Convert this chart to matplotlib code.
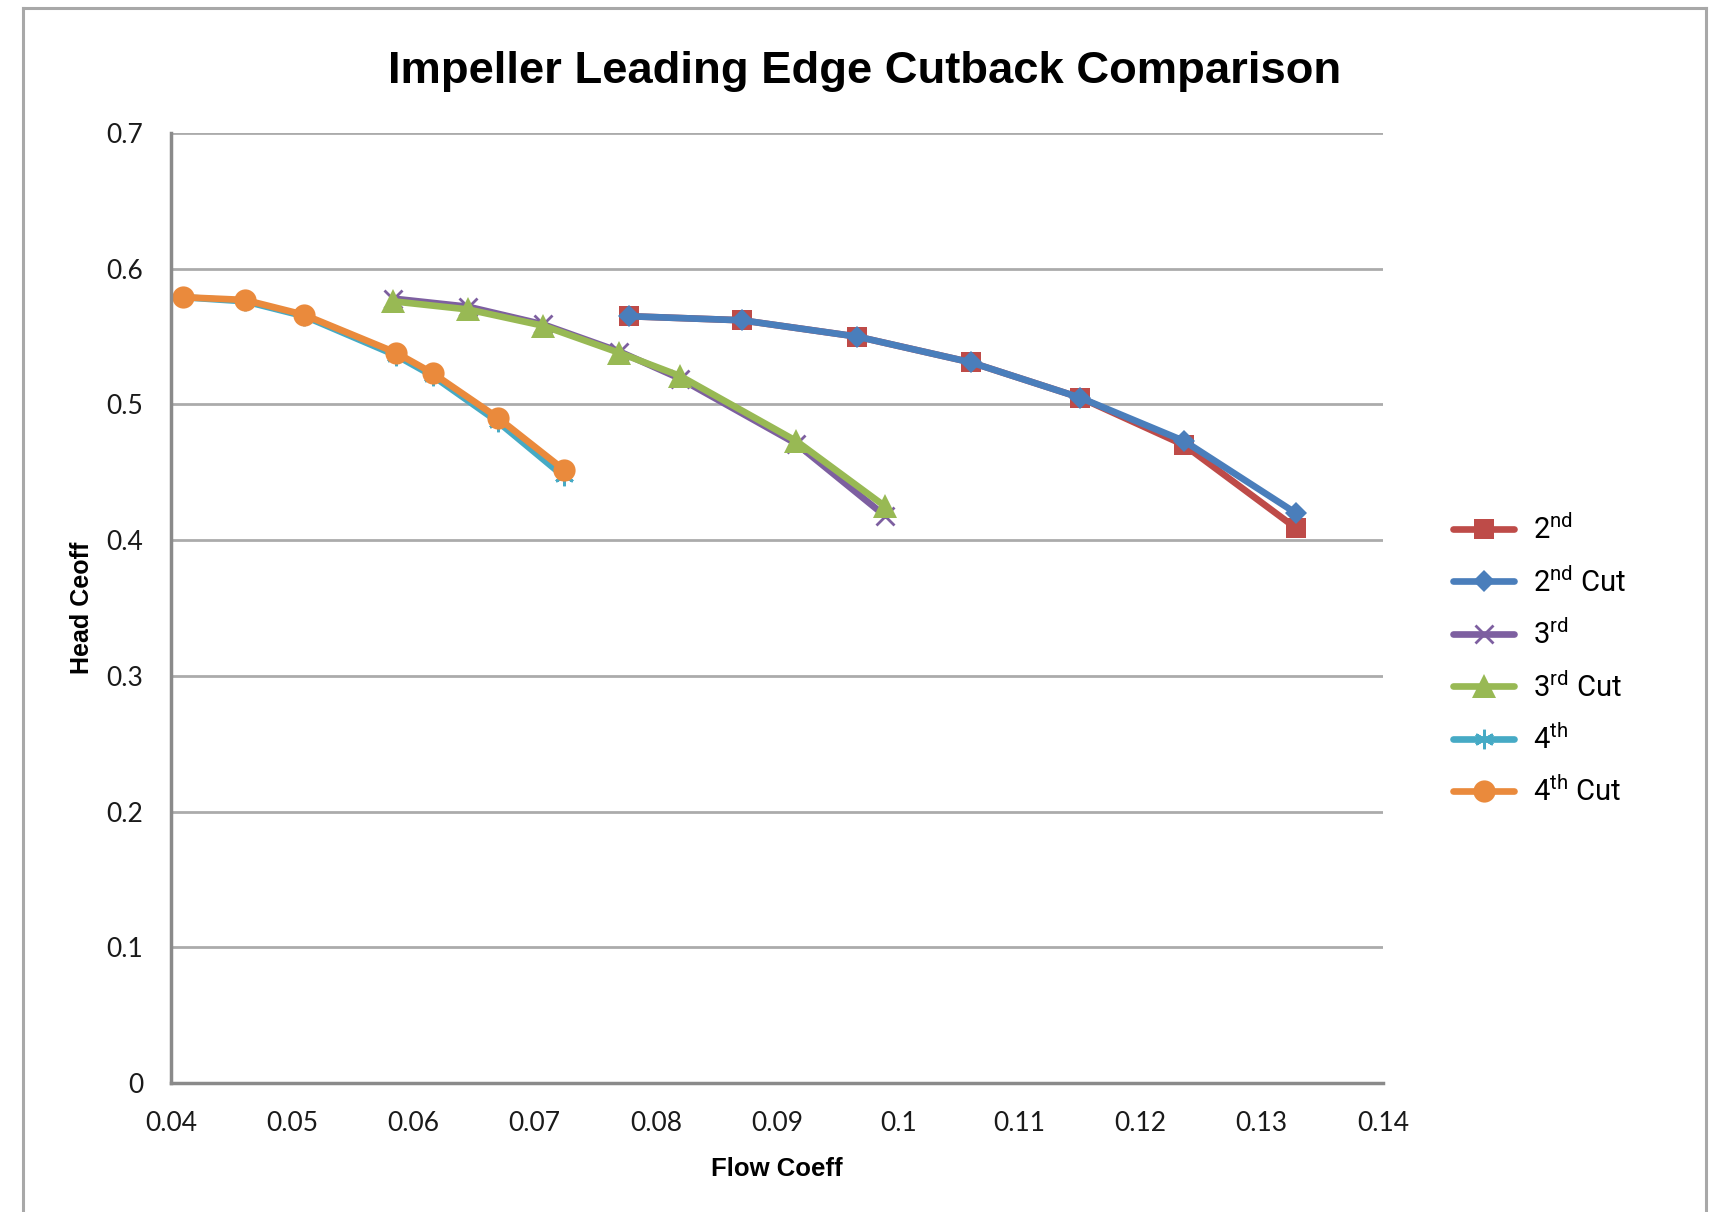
import matplotlib
matplotlib.use("Agg")
import matplotlib.pyplot as plt
from matplotlib.lines import Line2D

# ---- data ----
flow_2 = [0.0778, 0.0871, 0.0966, 0.1060, 0.1150, 0.1236, 0.1328]
head_2 = [0.565, 0.562, 0.550, 0.531, 0.505, 0.470, 0.409]
head_2cut = [0.565, 0.562, 0.550, 0.531, 0.505, 0.473, 0.420]

flow_3 = [0.0583, 0.0645, 0.0707, 0.0770, 0.0820, 0.0916, 0.0989]
head_3 = [0.578, 0.572, 0.559, 0.539, 0.519, 0.471, 0.418]
head_3cut = [0.576, 0.570, 0.558, 0.538, 0.521, 0.473, 0.425]

flow_4 = [0.0410, 0.0461, 0.0510, 0.0586, 0.0616, 0.0670, 0.0724]
head_4 = [0.579, 0.576, 0.565, 0.536, 0.521, 0.487, 0.447]
head_4cut = [0.579, 0.577, 0.566, 0.538, 0.523, 0.490, 0.452]

labels = [r"2$^{\mathrm{nd}}$", r"2$^{\mathrm{nd}}$ Cut", r"3$^{\mathrm{rd}}$",
          r"3$^{\mathrm{rd}}$ Cut", r"4$^{\mathrm{th}}$", r"4$^{\mathrm{th}}$ Cut"]
xticks = [0.04, 0.05, 0.06, 0.07, 0.08, 0.09, 0.1, 0.11, 0.12, 0.13, 0.14]
xticklabels = ["0.04", "0.05", "0.06", "0.07", "0.08", "0.09", "0.1", "0.11", "0.12", "0.13", "0.14"]
yticks = [0, 0.1, 0.2, 0.3, 0.4, 0.5, 0.6, 0.7]
yticklabels = ["0", "0.1", "0.2", "0.3", "0.4", "0.5", "0.6", "0.7"]

plt.rcParams['mathtext.fontset'] = 'custom'
plt.rcParams['mathtext.rm'] = 'Roboto'
plt.rcParams['mathtext.it'] = 'Roboto'
plt.rcParams['mathtext.bf'] = 'Roboto'

fig = plt.figure(figsize=(17.12, 12.12), dpi=100)
ax = fig.add_axes([171/1712, 1 - 1083/1212, (1383-171)/1712, (1083-133)/1212])

styles = [
    dict(color="#BE4B48", marker="s", ms=15, mew=0),
    dict(color="#4A7EBB", marker="D", ms=11.5, mew=0),
    dict(color="#7D5FA0", marker="x", ms=13, mew=2),
    dict(color="#98B954", marker="^", ms=17, mew=0),
    dict(color="#46AAC5", marker=(6, 2, 0), ms=14, mew=2),
    dict(color="#EA8A3C", marker="o", ms=16, mew=0),
]
series = [(flow_2, head_2), (flow_2, head_2cut), (flow_3, head_3),
          (flow_3, head_3cut), (flow_4, head_4), (flow_4, head_4cut)]

handles = []
for (xs, ys), st, lab in zip(series, styles, labels):
    h, = ax.plot(xs, ys, lw=4.8, label=lab, solid_joinstyle='round',
                 solid_capstyle='round', **st)
    handles.append(h)

ax.set_xlim(0.04, 0.14)
ax.set_ylim(0, 0.7)
ax.set_xticks(xticks)
ax.set_xticklabels(xticklabels)
ax.set_yticks(yticks)
ax.set_yticklabels(yticklabels)
ax.tick_params(length=0, pad=20, labelsize=19, colors="#1a1a1a")
for lbl in ax.get_xticklabels() + ax.get_yticklabels():
    lbl.set_family(["Lato", "DejaVu Sans"])

ax.grid(axis='y', color="#ABABAB", lw=2)
ax.set_axisbelow(True)
for s in ["top", "right"]:
    ax.spines[s].set_visible(False)
for s in ["left", "bottom"]:
    ax.spines[s].set_color("#8A8A8A")
    ax.spines[s].set_linewidth(2.5)

ax.set_xlabel("Flow Coeff", fontsize=18.5, fontweight="bold",
              family=["Liberation Sans", "DejaVu Sans"], labelpad=15)
ax.set_ylabel("Head Ceoff", fontsize=18, fontweight="bold",
              family=["Liberation Sans", "DejaVu Sans"], labelpad=9)

fig.text(865/1712, 1 - 71/1212, "Impeller Leading Edge Cutback Comparison",
         ha="center", va="center", fontsize=32.7, fontweight="bold",
         family=["Liberation Sans", "DejaVu Sans"])

leg = fig.legend(handles=handles, loc="center left",
                 bbox_to_anchor=(1453/1712, 1 - 661/1212),
                 frameon=False, borderpad=0, borderaxespad=0,
                 handlelength=2.1, handletextpad=0.65, labelspacing=0.75,
                 prop={"family": ["Roboto", "DejaVu Sans"], "size": 21})

# outer chart frame
fx0, fx1, fy1 = 23/1712, 1706/1712, 1 - 8/1212
frame_kw = dict(color="#A8A8A8", lw=2.2, transform=fig.transFigure)
fig.add_artist(Line2D([fx0, fx0], [0, fy1], **frame_kw))
fig.add_artist(Line2D([fx1, fx1], [0, fy1], **frame_kw))
fig.add_artist(Line2D([fx0, fx1], [fy1, fy1], **frame_kw))

fig.savefig("out.png", dpi=100, facecolor="white")
